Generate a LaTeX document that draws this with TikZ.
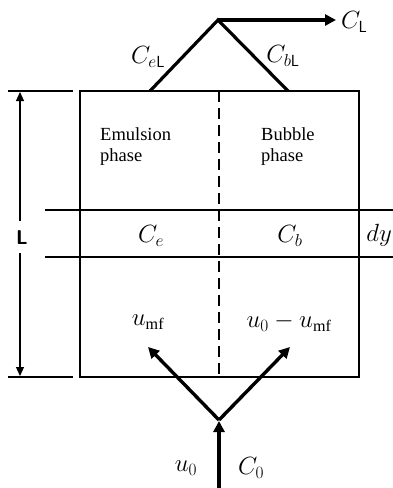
\documentclass[tikz,border=0pt]{standalone}
\usepackage{fontspec}
\setmainfont{Liberation Serif}
\usetikzlibrary{arrows.meta}
\begin{document}
\begin{tikzpicture}[x=1pt,y=-1pt,
  lbl/.style={font=\fontsize{18.5}{21}\selectfont, inner sep=0pt},
  mth/.style={font=\fontsize{23}{26}\selectfont, inner sep=0pt},
  thick line/.style={line width=3.2pt},
  box line/.style={line width=2pt},
  thin line/.style={line width=1.1pt},
  flowarrow/.style={line width=3.4pt, -{Triangle[length=11pt,width=11pt]}},
  dimarrow/.style={line width=1.1pt, -{Triangle[length=9pt,width=8pt]}}]
\useasboundingbox (0,0) rectangle (393,488);
% box
\draw[box line] (80,91) rectangle (359,377);
\draw[box line, dash pattern=on 11pt off 6pt] (219,91) -- (219,377);
% slice lines
\draw[thin line] (45,210) -- (393,210);
\draw[thin line] (45,257) -- (393,257);
% dimension
\coordinate (t1) at (8,91); \coordinate (t2) at (73,91);
\coordinate (b1) at (8,377); \coordinate (b2) at (73,377);
\draw[thin line] (t1) -- (t2);
\draw[thin line] (b1) -- (b2);
\node[lbl, font=\sffamily\bfseries\fontsize{20}{22}\selectfont] (L) at (22,238) {L};
\coordinate (dtop) at (20,92); \coordinate (dbot) at (20,376);
\draw[dimarrow] (20,221) -- (dtop);
\draw[dimarrow] (20,253) -- (dbot);
% top outlet
\coordinate (peak) at (218,20);
\coordinate (footL) at (150,91);
\coordinate (footR) at (288,91);
\coordinate (out) at (336,20);
\draw[thick line, line join=miter] (footL) -- (peak) -- (footR);
\draw[flowarrow] (peak) -- (out);
\node[mth, anchor=west] (CL) at (341,22) {$C_{\mathsf{L}}$};
\node[mth] (CeL) at (148,57) {$C_{e\mathsf{L}}$};
\node[mth] (CbL) at (283,56) {$C_{b\mathsf{L}}$};
% texts
\node[lbl, align=left, anchor=west] (em) at (100,147) {Emulsion\\phase};
\node[lbl, align=left, anchor=west] (bu) at (261,147) {Bubble\\phase};
\node[mth] (Ce) at (151,236) {$C_e$};
\node[mth] (Cb) at (290,236) {$C_b$};
\node[mth, anchor=east] (dy) at (392,235) {$dy$};
\node[mth] (umf) at (148,322) {$u_{\mathrm{mf}}$};
\node[mth] (ub) at (289,322) {$u_0 - u_{\mathrm{mf}}$};
% bottom inlet
\coordinate (v) at (219,420);
\coordinate (tipL) at (148,347);
\coordinate (tipR) at (290,347);
\coordinate (inlet) at (219,488);
\draw[flowarrow] (v) -- (tipL);
\draw[flowarrow] (v) -- (tipR);
\draw[flowarrow] (inlet) -- (219,421);
\node[mth] (u0) at (186,468) {$u_0$};
\node[mth] (C0) at (251,468) {$C_0$};
\end{tikzpicture}
\end{document}
